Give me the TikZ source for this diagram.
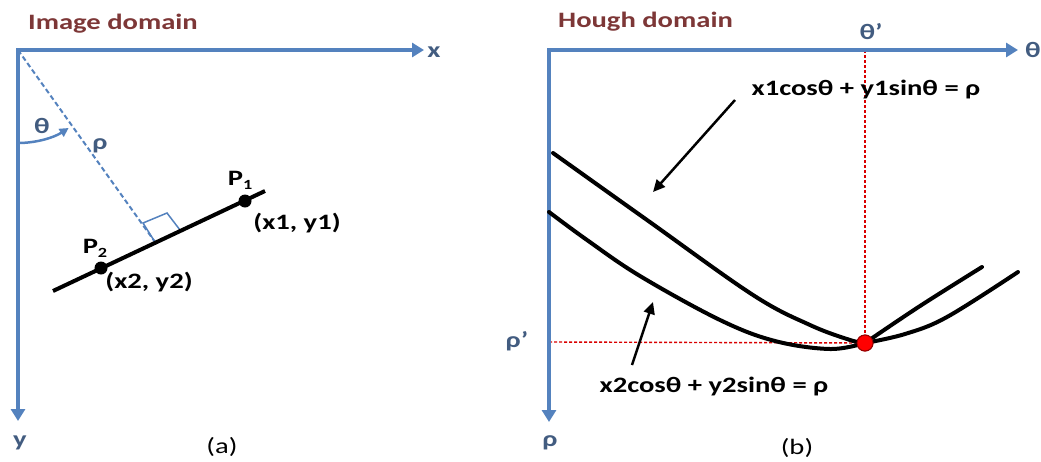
\documentclass[tikz,border=0pt]{standalone}
\usepackage{fontspec}
\setmainfont{Carlito}[FakeStretch=1.3]
\usetikzlibrary{arrows.meta}
\definecolor{axisblue}{RGB}{84,130,190}
\definecolor{titlered}{RGB}{125,55,55}
\definecolor{labelblue}{RGB}{66,92,128}
\newcommand{\lowidx}[1]{\raisebox{-4pt}{\fontsize{14}{14}\selectfont #1}}
\tikzset{
      axisline/.style={
        draw=axisblue,
        line width=4.5pt,
        {Triangle[length=12pt,width=14pt]}-{Triangle[length=12pt,width=14pt]}
      },
      curveline/.style={draw=black, line width=4pt, line cap=round},
      pointer/.style={draw=black, line width=2.5pt, -{Triangle[length=12pt,width=11pt]}},
      guideline/.style={draw=red!85!black, line width=1.4pt, dash pattern=on 3pt off 2pt},
      rholine/.style={draw=axisblue, line width=2pt, dash pattern=on 5pt off 3pt},
      titletext/.style={text=titlered, font=\fontsize{22}{25}\selectfont\bfseries, inner sep=0pt},
      axistext/.style={text=labelblue, font=\fontsize{22}{25}\selectfont\bfseries, inner sep=0pt},
      plaintext/.style={font=\fontsize{22}{25}\selectfont\bfseries, inner sep=0pt},
      captiontext/.style={font=\fontsize{22}{25}\selectfont, inner sep=0pt},
      dotmark/.style={circle, fill=black, inner sep=0pt, minimum size=13pt},
      crossmark/.style={circle, fill=red, draw=red!60!black, line width=1pt, inner sep=0pt, minimum size=16pt}
    }

\begin{document}
\begin{tikzpicture}[x=1pt,y=-1pt]
    \useasboundingbox (0,0) rectangle (1041,461);
    % image domain
    \node[titletext, anchor=west] (ttl1) at (28,24) {Image domain};
    \coordinate (o1) at (18,50);
    \coordinate (x1tip) at (424,50);
    \coordinate (y1tip) at (18,421);
    \node[axistext] (xlab) at (434,52) {x};
    \node[axistext] (ylab) at (20,443) {y};
    \draw[axisline] (x1tip) -- (o1) -- (y1tip);
    \coordinate (foot) at (155,242);
    \coordinate (sqa) at (143,223);
    \coordinate (sqb) at (167,213);
    \coordinate (sqc) at (180,230);
    \draw[rholine] (o1) -- (foot);
    \draw[axisblue, line width=1.5pt] (foot) -- (sqa) -- (sqb) -- (sqc);
    \draw[axisblue, line width=2.5pt, -{Triangle[length=9pt,width=9pt]}] (o1) ++(90:93) arc[start angle=90, end angle=57, radius=93];
    \node[axistext] (thlab) at (42,126) {θ};
    \node[axistext] (rholab) at (100,146) {ρ};
    \coordinate (la) at (53,291);
    \coordinate (lb) at (265,191);
    \draw[black, line width=4pt] (la) -- (lb);
    \node[dotmark] (p1) at (245,201) {};
    \node[dotmark] (p2) at (101,268) {};
    \node[plaintext] (p1lab) at (240,180) {P\lowidx{1}};
    \node[plaintext] (p2lab) at (95,248) {P\lowidx{2}};
    \node[plaintext] (p1xy) at (297,223) {(x1, y1)};
    \node[plaintext] (p2xy) at (149,282) {(x2, y2)};
    \node[captiontext] (capa) at (222,447) {(a)};
    % hough domain
    \node[titletext, anchor=west] (ttl2) at (558,22) {Hough domain};
    \coordinate (o2) at (549,50);
    \coordinate (thtip) at (1018,50);
    \coordinate (rhtip) at (549,422);
    \node[axistext] (thaxis) at (1033,50) {θ};
    \node[axistext] (rhaxis) at (550,443) {ρ};
    \node[axistext] (thp) at (871,32) {θ’};
    \node[axistext] (rhp) at (517,341) {ρ'};
    \coordinate (thfoot) at (865,50);
    \coordinate (rhfoot) at (549,342);
    \node[crossmark] (cross) at (865,343) {};
    \draw[guideline] (thfoot) -- (cross.center);
    \draw[guideline] (rhfoot) -- (cross.center);
    \draw[axisline] (thtip) -- (o2) -- (rhtip);
    \draw[curveline] plot[smooth, tension=0.6] coordinates {(553,153) (647,220) (753,295) (810,325) (850,340) (865,343)};
    \draw[curveline] plot[smooth, tension=0.6] coordinates {(865,343) (920,306) (982,267)};
    \draw[curveline] plot[smooth, tension=0.6] coordinates {(549,212) (587,240) (640,276) (720,320) (775,341) (830,349) (865,343)};
    \draw[curveline] plot[smooth, tension=0.6] coordinates {(865,343) (905,334) (947,317) (1018,272)};
    \node[crossmark] at (cross) {};
    \node[plaintext] (eq1) at (866,90) {x1cosθ + y1sinθ = ρ};
    \node[plaintext] (eq2) at (714,387) {x2cosθ + y2sinθ = ρ};
    \coordinate (a1s) at (735,100);
    \coordinate (a1e) at (653,192);
    \coordinate (a2s) at (632,365);
    \coordinate (a2e) at (653,302);
    \draw[pointer] (a1s) -- (a1e);
    \draw[pointer] (a2s) -- (a2e);
    \node[captiontext] (capb) at (797,448) {(b)};
\end{tikzpicture}
\end{document}
